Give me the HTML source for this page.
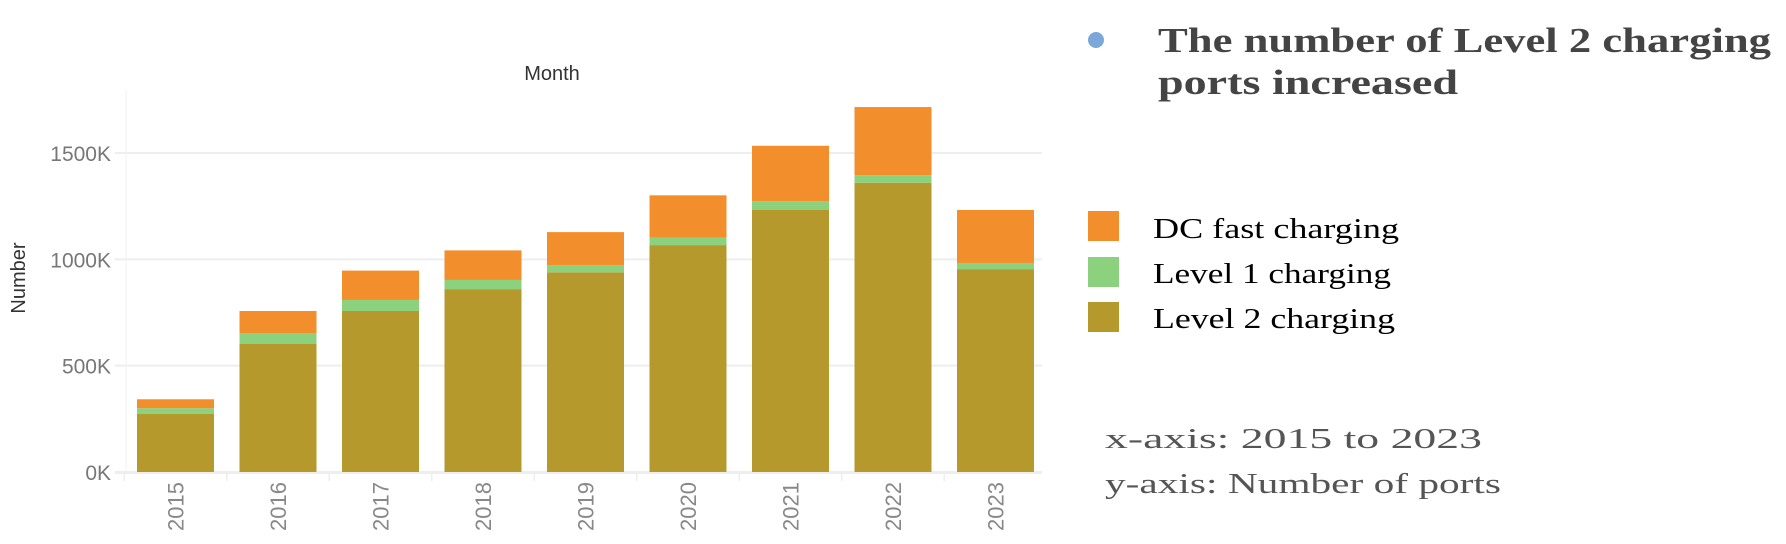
<!DOCTYPE html>
<html><head><meta charset="utf-8"><style>
html,body{margin:0;padding:0;background:#fff;}
svg{display:block;}
</style></head><body>
<svg id="chart" width="1786" height="544" xmlns="http://www.w3.org/2000/svg">
<text x="552" y="80" text-anchor="middle" font-family="Liberation Sans, sans-serif" font-size="20" fill="#333">Month</text>
<text transform="translate(25,278) rotate(-90)" text-anchor="middle" font-family="Liberation Sans, sans-serif" font-size="20" fill="#333">Number</text>
<g id="grid"></g>
<g id="bars"></g>
<g id="xlabels"></g>
<circle cx="1096" cy="40" r="8" fill="#7ba7d9"/>
<text x="1158" y="52" font-family="Liberation Serif, serif" font-weight="bold" font-size="35" fill="#444" textLength="613" lengthAdjust="spacingAndGlyphs">The number of Level 2 charging</text>
<text x="1158" y="94" font-family="Liberation Serif, serif" font-weight="bold" font-size="35" fill="#444" textLength="300" lengthAdjust="spacingAndGlyphs">ports increased</text>
<g>
<rect x="1088" y="211" width="31" height="30" fill="#f28e2c"/>
<text x="1153" y="238" font-family="Liberation Serif, serif" font-size="28" fill="#000" textLength="246" lengthAdjust="spacingAndGlyphs">DC fast charging</text>
<rect x="1088" y="257" width="31" height="30" fill="#8cd17d"/>
<text x="1153" y="283" font-family="Liberation Serif, serif" font-size="28" fill="#000" textLength="238" lengthAdjust="spacingAndGlyphs">Level 1 charging</text>
<rect x="1088" y="302" width="31" height="30" fill="#b6992d"/>
<text x="1153" y="328" font-family="Liberation Serif, serif" font-size="28" fill="#000" textLength="242" lengthAdjust="spacingAndGlyphs">Level 2 charging</text>
</g>
<text x="1105" y="448" font-family="Liberation Serif, serif" font-size="29" fill="#555" textLength="377" lengthAdjust="spacingAndGlyphs">x-axis: 2015 to 2023</text>
<text x="1105" y="493" font-family="Liberation Serif, serif" font-size="29" fill="#555" textLength="396" lengthAdjust="spacingAndGlyphs">y-axis: Number of ports</text>
</svg>
<script>
const years = ['2015','2016','2017','2018','2019','2020','2021','2022','2023'];
const level2 = [273,602,757,860,939,1067,1232,1360,954];
const level1 = [27,50,52,43,34,35,42,36,29];
const dcFast = [42,105,138,139,155,199,260,320,249];
const yTicks = [0,500,1000,1500];
const yTickLabels = ['0K','500K','1000K','1500K'];

const NS='http://www.w3.org/2000/svg';
const y0=472, pxPerK=319/1500;
function yScale(v){return y0 - v*pxPerK;}
function xScale(i){return 137 + i*102.5;}
const barW=77;
function mk(tag,attrs,parent){const e=document.createElementNS(NS,tag);for(const k in attrs)e.setAttribute(k,attrs[k]);parent.appendChild(e);return e;}

const grid=document.getElementById('grid');
yTicks.forEach((t,i)=>{
  const ln=mk('line',{x1:115,x2:1042,y1:yScale(t),y2:yScale(t),stroke:'#eeeeee','stroke-width':2},grid);
  
  
  const tx=mk('text',{x:111,y:yScale(t)+8,'text-anchor':'end','font-family':'Liberation Sans, sans-serif','font-size':21,fill:'#777'},grid);
  tx.textContent=yTickLabels[i];
  
  
});
const ax=mk('line',{x1:126,x2:126,y1:90,y2:472,stroke:'#f0f0f0','stroke-width':1},grid);



const bars=document.getElementById('bars');
const xl=document.getElementById('xlabels');
years.forEach((yr,i)=>{
  const x=xScale(i);
  const segs=[[0,level2[i],'#b6992d','bar-level2'],[level2[i],level2[i]+level1[i],'#8cd17d','bar-level1'],[level2[i]+level1[i],level2[i]+level1[i]+dcFast[i],'#f28e2c','bar-dc']];
  segs.forEach(s=>{
    const r=mk('rect',{x:x,y:yScale(s[1]),width:barW,height:yScale(s[0])-yScale(s[1]),fill:s[2]},bars);
    
    
  });
  const tk=mk('line',{x1:x-12.75,x2:x-12.75,y1:474,y2:481,stroke:'#eeeeee','stroke-width':1.5},xl);
  
  
  const cx=x+barW/2;
  const t=mk('text',{transform:`translate(${cx+8},482) rotate(-90)`,'text-anchor':'end','font-family':'Liberation Sans, sans-serif','font-size':22,fill:'#888'},xl);
  t.textContent=yr;
  
  
});
const bl=mk('line',{x1:115,x2:1042,y1:473,y2:473,stroke:'#eeeeee','stroke-width':2},xl);


</script>
</body></html>
